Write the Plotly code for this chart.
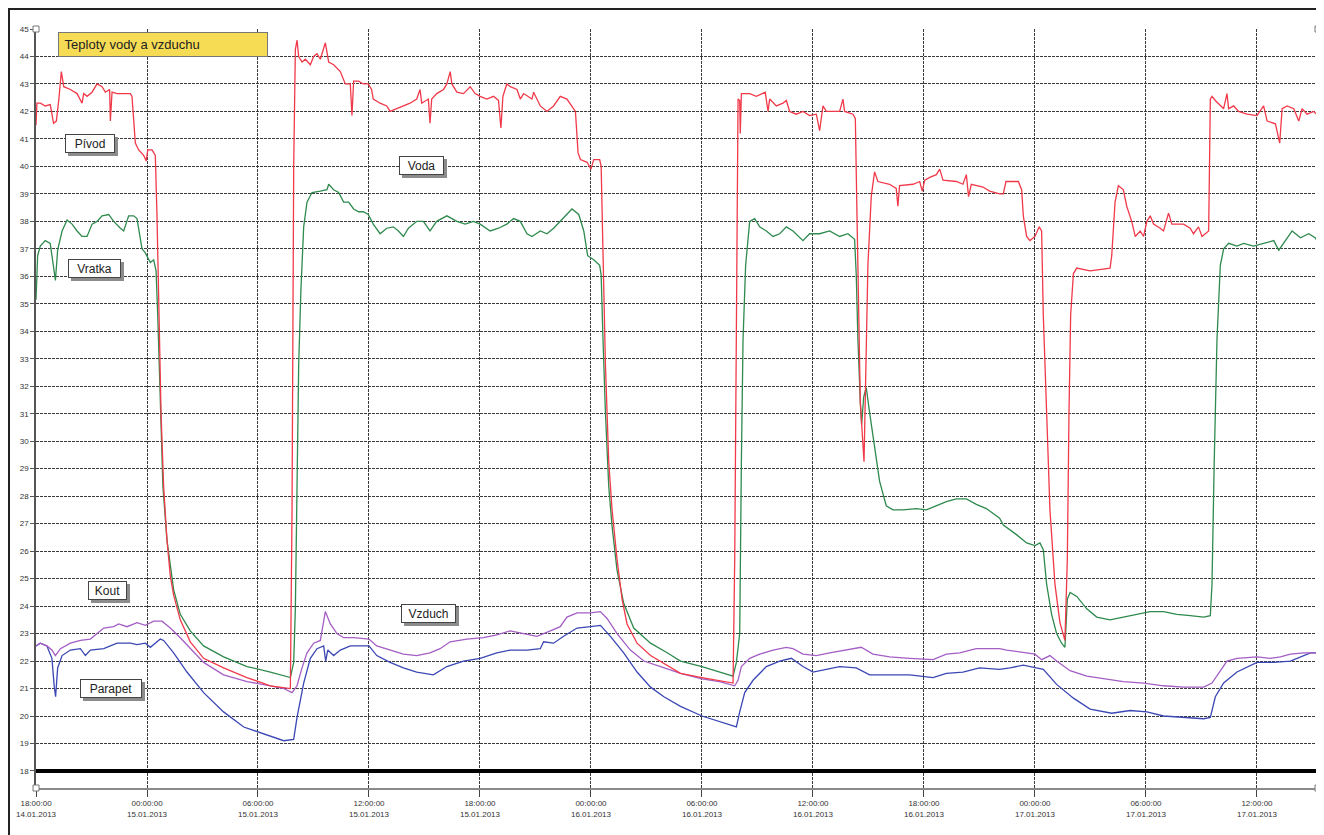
import plotly.graph_objects as go
import pandas as pd

# ---------------- data (hours after 14.01.2013 18:00 ; temperature in degC) ----------------
START = pd.Timestamp("2013-01-14 18:00:00")

pivod_hours = [0, 0.05, 0.24, 0.5, 0.77, 0.95, 1.1, 1.23, 1.37, 1.5, 1.86, 2.22, 2.49, 2.58, 2.76,
               3.03, 3.3, 3.57, 3.75, 3.98, 4.02, 4.11, 4.38, 4.74, 5.1, 5.19, 5.37, 5.55, 5.82, 5.96,
               6.04, 6.27, 6.45, 6.54, 6.63, 6.76, 6.9, 7.08, 7.26, 7.44, 7.8, 8.34, 9.06, 10.14, 11.4,
               12.67, 13.75, 13.84, 13.93, 14.02, 14.11, 14.2, 14.38, 14.56, 14.83, 15.01, 15.19, 15.37,
               15.64, 15.82, 16.09, 16.45, 16.72, 16.99, 17.08, 17.17, 17.44,
               17.69, 17.96, 18.14, 18.23, 18.6, 18.96, 19.14, 19.5, 19.86, 20.22, 20.58, 20.76, 20.85,
               21.21, 21.3, 21.39, 21.66, 22.03, 22.21, 22.39, 22.48, 22.75, 23.11, 23.47, 23.74, 24.01,
               24.37, 24.73, 25.0, 25.13, 25.24, 25.45, 25.64, 26.0, 26.18, 26.36, 26.81, 26.9, 27.26,
               27.62, 27.98, 28.34, 28.7, 28.97, 29.16, 29.3, 29.43, 29.79, 30.0, 30.15, 30.47, 30.55,
               30.65, 30.78, 30.96, 31.14, 31.41, 31.68, 31.95, 32.49, 33.22, 34.12, 34.84,
               36.0, 37.68, 37.77, 37.86, 37.95, 38.04, 38.07, 38.13, 38.58, 38.94, 39.3, 39.42, 39.57,
               39.66, 40.02, 40.38, 40.56, 40.74, 41.1, 41.46, 41.82, 42.18, 42.36, 42.54, 42.72, 43.44,
               43.62, 43.71, 44.16, 44.29, 44.38, 44.47, 44.56, 44.76, 44.85, 44.97, 45.15, 45.33, 45.51,
               46.14, 46.5, 46.59, 46.68, 47.41, 47.77, 47.91, 48.04, 48.31, 48.67, 48.85, 49.03, 49.75,
               50.11, 50.29, 50.41, 50.56, 51.19, 51.55, 52.09,
               52.29, 52.43, 53.1, 53.28, 53.37, 53.55, 53.73, 54.0, 54.23, 54.36, 54.45, 54.63, 54.81,
               55.08, 55.35, 55.62, 55.75, 55.84, 55.93, 56.08, 56.26, 56.98, 58.06, 58.15, 58.33, 58.51,
               58.78, 58.96, 59.23, 59.42, 59.69, 59.87, 60.05, 60.23, 60.41, 60.77, 60.95, 61.22, 61.4,
               62.03, 62.39, 62.57, 62.84, 63.03, 63.39, 63.48, 63.57, 63.75, 64.02, 64.2, 64.38, 64.47,
               64.74, 65.01, 65.46, 66.0, 66.36, 66.55, 67.0, 67.23, 67.36, 67.63, 67.99, 68.26, 68.44,
               68.71, 69.07, 69.3]
pivod_temp = [41.5, 42.3, 42.3, 42.2, 42.25, 41.57, 41.65, 42.4, 43.45, 42.9, 42.8, 42.65, 42.3, 42.65, 42.55,
              42.7, 43.0, 42.9, 42.7, 42.8, 41.65, 42.7, 42.65, 42.65, 42.65, 42.55, 40.85, 40.6, 40.4, 40.2,
              40.6, 40.6, 40.4, 38.2, 34.6, 31.0, 28.35, 26.4, 25.1, 24.4, 23.5, 22.7, 22.1, 21.75, 21.4,
              21.1, 21.0, 27.5, 40.0, 44.25, 44.6, 44.0, 43.8, 43.9, 43.7, 44.0, 44.1, 43.9,
              44.5, 43.8, 43.7, 43.45, 43.0, 43.0, 41.85, 43.1, 43.1,
              43.0, 43.0, 42.8, 42.45, 42.3, 42.2, 42.0, 42.1, 42.2, 42.3, 42.45, 42.8, 42.3,
              42.45, 41.57, 42.45, 42.65, 42.8, 43.0, 43.45, 43.0, 42.7, 42.65, 42.9, 42.65, 42.55,
              42.45, 42.55, 42.4, 41.4, 42.55, 43.0, 42.9, 42.8, 42.45, 42.65, 42.45, 42.7, 42.2,
              42.0, 42.2, 42.55, 42.45, 42.2, 42.0, 40.5, 40.25, 40.15, 39.9, 40.25, 40.25, 40.0,
              36.4, 32.8, 29.25, 27.5, 25.7, 24.25, 23.35, 22.65, 22.2, 21.85, 21.55,
              21.4, 21.2, 25.7, 36.4, 42.45, 42.4, 41.2, 42.65, 42.65, 42.55, 42.65, 42.7, 42.0,
              42.45, 42.2, 42.3, 42.4, 42.0, 41.9, 42.0, 41.85, 41.9, 41.3, 42.2, 42.0, 42.0,
              42.45, 42.0, 41.9, 41.75, 38.2, 34.6, 31.4, 29.25, 32.8, 36.4, 38.9, 39.8, 39.45,
              39.35, 39.2, 38.55, 39.3, 39.35, 39.45, 39.1, 39.5, 39.6, 39.7, 39.9, 39.5, 39.45,
              39.35, 39.7, 38.9, 39.35, 39.25, 39.1, 39.0,
              39.0, 39.45, 39.45, 39.15, 38.2, 37.45, 37.3, 37.45, 37.8, 37.65, 34.6, 31.05, 27.5,
              24.8, 23.4, 22.75, 25.7, 31.05, 34.6, 36.1, 36.3, 36.2, 36.3, 36.75, 38.7, 39.3,
              39.15, 38.55, 38.0, 37.45, 37.65, 37.45, 38.0, 38.2, 37.9, 37.75, 37.65, 38.3, 37.9,
              37.9, 37.75, 37.55, 37.8, 37.45, 37.65, 42.45, 42.55, 42.4, 42.2, 42.1, 42.65, 42.1,
              42.2, 42.0, 41.9, 41.85, 42.2, 41.65, 41.55, 40.85, 42.1, 42.2, 42.1, 41.65, 42.1,
              41.9, 42.0, 41.85]

vratka_hours = [0, 0.09, 0.23, 0.5, 0.77, 0.95, 1.05, 1.17, 1.41, 1.68, 1.95, 2.22, 2.49, 2.76, 3.03,
                3.3, 3.57, 3.93, 4.2, 4.56, 4.74, 5.01, 5.28, 5.46, 5.73, 5.91, 6.18, 6.36, 6.49, 6.58,
                6.72, 6.86, 7.08, 7.44, 7.8, 8.34, 9.06, 10.14, 11.41, 12.67, 13.75, 13.93, 14.02, 14.11,
                14.2, 14.32, 14.47, 14.65, 14.92, 15.37, 15.73, 15.82, 16.09, 16.36, 16.63, 16.9, 17.17, 17.44,
                17.69, 17.96, 18.23, 18.6, 18.96, 19.32, 19.59, 19.86, 20.13, 20.58, 20.94, 21.3, 21.66,
                22.21, 22.75, 23.2, 23.65, 24.01, 24.55, 25.0, 25.45, 25.82, 26.18, 26.54, 26.81, 27.26,
                27.62, 27.98, 28.34, 28.7, 28.97, 29.34, 29.61, 29.82, 30.15, 30.47, 30.55, 30.65, 30.78,
                30.96, 31.14, 31.41, 31.77, 32.31, 33.22, 34.12, 34.84,
                36.0, 37.68, 37.86, 38.04, 38.13, 38.22, 38.36, 38.58, 38.85, 39.12, 39.48, 39.84, 40.2,
                40.56, 40.92, 41.46, 41.82, 42.36, 42.9, 43.44, 43.89, 44.25, 44.34, 44.43, 44.56, 44.63,
                44.74, 44.88, 45.06, 45.33, 45.6, 45.96, 46.32, 46.86, 47.59, 48.13, 48.67, 49.21, 49.75,
                50.29, 50.83, 51.37, 52.09,
                52.29, 53.0, 53.55, 54.0, 54.27, 54.45, 54.63, 54.9, 55.17, 55.44, 55.62, 55.75, 55.9,
                56.26, 56.8, 57.34, 58.06, 58.78, 59.51, 60.23, 60.95, 61.67, 62.39, 63.12, 63.48, 63.57,
                63.69, 63.84, 64.02, 64.2, 64.47, 64.92, 65.28, 65.82, 66.36, 66.91, 67.18, 67.45, 67.9,
                68.35, 68.8, 69.16, 69.3]
vratka_temp = [35.15, 36.75, 37.1, 37.3, 37.2, 36.4, 35.85, 36.95, 37.65, 38.05, 37.9, 37.65, 37.45, 37.45, 37.9,
               38.0, 38.2, 38.25, 38.0, 37.75, 37.65, 38.2, 38.2, 38.1, 37.0, 36.85, 36.5, 36.6, 36.2, 34.6,
               31.05, 28.35, 26.4, 24.6, 23.7, 23.1, 22.55, 22.15, 21.8, 21.6, 21.4, 21.95, 23.9, 29.25,
               32.8, 35.5, 37.8, 38.7, 39.05, 39.1, 39.15, 39.35, 39.15, 39.05, 38.7, 38.7, 38.45, 38.35,
               38.35, 38.25, 37.9, 37.55, 37.75, 37.8, 37.65, 37.45, 37.75, 38.0, 38.0, 37.65, 38.0,
               38.2, 38.0, 37.9, 38.0, 37.9, 37.65, 37.75, 37.9, 38.1, 38.0, 37.55, 37.45, 37.65,
               37.55, 37.75, 38.0, 38.25, 38.45, 38.25, 37.65, 36.75, 36.6, 36.4, 36.05, 33.7, 31.05,
               28.35, 26.9, 25.3, 24.1, 23.2, 22.65, 22.3, 22.0,
               21.8, 21.45, 21.95, 23.0, 29.25, 33.7, 36.4, 38.0, 38.1, 37.8, 37.65, 37.45, 37.55,
               37.8, 37.65, 37.3, 37.55, 37.55, 37.65, 37.45, 37.55, 37.35, 36.05, 33.7, 31.4, 30.6,
               31.6, 31.95, 31.05, 29.8, 28.55, 27.65, 27.5, 27.5, 27.55, 27.5, 27.65, 27.8, 27.9,
               27.9, 27.7, 27.55, 27.2,
               26.95, 26.6, 26.3, 26.2, 26.3, 26.05, 24.8, 23.7, 23.0, 22.65, 22.5, 24.25, 24.5,
               24.35, 23.9, 23.6, 23.5, 23.6, 23.7, 23.8, 23.8, 23.7, 23.65, 23.6, 23.65, 24.8,
               29.25, 33.7, 36.4, 37.0, 37.2, 37.1, 37.2, 37.1, 37.2, 37.3, 36.95, 37.2, 37.65,
               37.4, 37.55, 37.4, 37.2]

kout_hours = [0, 0.23, 0.59, 0.86, 1.05, 1.32, 1.86, 2.4, 2.94, 3.3, 3.66, 4.2, 4.47, 4.92, 5.46,
              5.91, 6.36, 6.81, 7.26, 7.8, 8.34, 9.06, 10.14, 11.41, 12.67, 13.39, 13.84, 14.11, 14.38,
              14.65, 15.01, 15.37, 15.64, 15.91, 16.27, 16.63, 17.17,
              18.0, 18.42, 19.14, 19.86, 20.58, 21.3, 21.84, 22.39, 23.29, 24.19, 24.91, 25.64, 26.36,
              27.08, 27.8, 28.34, 28.7, 29.25, 29.97, 30.51, 30.87, 31.41, 32.13, 32.86, 33.76, 34.84,
              36.0, 36.95, 37.77, 37.95, 38.13, 38.58, 39.12, 39.84, 40.56, 40.92, 41.46, 42.18, 42.9,
              43.8, 44.61, 45.24, 46.14, 47.23, 48.13, 48.49, 49.21, 49.93, 50.83, 52.09,
              52.47, 53.37, 54.0, 54.36, 54.81, 55.17, 55.9, 56.8, 57.88, 58.78, 59.87, 60.95, 62.03,
              63.12, 63.57, 64.02, 64.38, 64.92, 65.64, 66.0, 66.72, 67.27, 67.81, 68.53, 69.3]
kout_temp = [22.55, 22.65, 22.55, 22.4, 22.2, 22.45, 22.65, 22.75, 22.8, 23.0, 23.2, 23.25, 23.35, 23.25, 23.4,
             23.3, 23.45, 23.45, 23.2, 22.85, 22.45, 21.95, 21.5, 21.25, 21.1, 21.0, 20.85, 21.1, 21.75,
             22.3, 22.65, 22.75, 23.8, 23.35, 23.0, 22.85, 22.85,
             22.8, 22.55, 22.4, 22.25, 22.2, 22.3, 22.45, 22.7, 22.8, 22.85, 22.95, 23.1, 23.0,
             22.9, 23.1, 23.25, 23.6, 23.75, 23.75, 23.8, 23.55, 23.0, 22.4, 22.0, 21.8, 21.55,
             21.35, 21.25, 21.1, 21.3, 21.8, 22.1, 22.25, 22.4, 22.5, 22.45, 22.25, 22.2, 22.3,
             22.4, 22.5, 22.25, 22.15, 22.1, 22.05, 22.05, 22.25, 22.3, 22.45, 22.45,
             22.4, 22.3, 22.25, 22.05, 22.2, 22.0, 21.65, 21.45, 21.35, 21.25, 21.2, 21.1, 21.05,
             21.05, 21.2, 21.65, 22.0, 22.1, 22.15, 22.15, 22.1, 22.15, 22.25, 22.3, 22.3]

parapet_hours = [0, 0.23, 0.59, 0.86, 0.99, 1.06, 1.17, 1.41, 1.86, 2.4, 2.67, 2.94, 3.66, 4.38, 5.1,
                 5.46, 5.91, 6.18, 6.72, 6.9, 7.44, 8.16, 9.06, 10.14, 11.23, 12.31, 13.39, 13.93, 14.11,
                 14.47, 14.83, 15.19, 15.55, 15.66, 15.77, 16.09, 16.45, 16.99,
                 18.0, 18.42, 19.14, 19.86, 20.58, 21.48, 22.21, 23.11, 24.01, 24.91, 25.64, 26.54, 27.26,
                 27.44, 27.98, 28.52, 29.25, 29.97, 30.51, 31.05, 31.77, 32.49, 33.22, 33.94, 34.84,
                 36.0, 36.95, 37.86, 38.04, 38.31, 38.76, 39.48, 40.2, 40.83, 41.46, 42.0, 42.72, 43.44,
                 44.34, 45.06, 46.14, 47.23, 48.49, 49.21, 50.11, 51.0, 52.09,
                 52.65, 53.37, 54.0, 54.45, 55.17, 56.08, 56.98, 58.15, 59.14, 60.05, 60.95, 62.03, 63.12,
                 63.48, 63.75, 64.2, 64.92, 66.0, 66.91, 67.81, 68.89, 69.3]
parapet_temp = [22.55, 22.65, 22.55, 22.1, 21.05, 20.7, 21.75, 22.2, 22.4, 22.45, 22.2, 22.4, 22.45, 22.65, 22.65,
                22.6, 22.65, 22.5, 22.8, 22.75, 22.3, 21.6, 20.85, 20.15, 19.6, 19.35, 19.1, 19.15, 19.95,
                21.2, 22.1, 22.45, 22.55, 22.0, 22.4, 22.2, 22.4, 22.55,
                22.55, 22.2, 21.95, 21.75, 21.6, 21.5, 21.8, 22.0, 22.1, 22.3, 22.4, 22.4, 22.45,
                22.7, 22.65, 22.9, 23.2, 23.25, 23.3, 22.9, 22.3, 21.6, 21.05, 20.7, 20.35,
                20.0, 19.8, 19.6, 20.15, 20.85, 21.3, 21.8, 22.0, 22.1, 21.8, 21.6, 21.7, 21.8,
                21.75, 21.5, 21.5, 21.5, 21.4, 21.55, 21.6, 21.75, 21.7,
                21.75, 21.85, 21.75, 21.7, 21.15, 20.65, 20.25, 20.1, 20.2, 20.15, 20.0, 19.95, 19.9,
                19.95, 20.7, 21.2, 21.6, 21.95, 21.95, 22.0, 22.3, 22.3]

tick_hours = [0, 6, 12, 18, 24, 30, 36, 42, 48, 54, 60, 66]
tick_labels = ["18:00:00<br>14.01.2013", "00:00:00<br>15.01.2013", "06:00:00<br>15.01.2013",
               "12:00:00<br>15.01.2013", "18:00:00<br>15.01.2013", "00:00:00<br>16.01.2013",
               "06:00:00<br>16.01.2013", "12:00:00<br>16.01.2013", "18:00:00<br>16.01.2013",
               "00:00:00<br>17.01.2013", "06:00:00<br>17.01.2013", "12:00:00<br>17.01.2013"]
end_hours = 69.3

for a, b in [(pivod_hours, pivod_temp), (vratka_hours, vratka_temp),
             (kout_hours, kout_temp), (parapet_hours, parapet_temp)]:
    assert len(a) == len(b), (len(a), len(b))


def to_time(hours):
    return [START + pd.Timedelta(hours=h) for h in hours]


# ---------------- figure (page has an 8px body margin) ----------------
OFF = 8
W, H = 1316, 827
L, R, T, B = 28, 6, 21, 47
PW, PH = W - L - R, H - T - B


def px(xp):  # page pixel -> paper x
    return (xp - OFF - L) / PW


def py(yp):  # page pixel -> paper y
    return (H - B - (yp - OFF)) / PH


fig = go.Figure()
series = [
    ("Parapet", parapet_hours, parapet_temp, "#3b47b3"),
    ("Kout", kout_hours, kout_temp, "#a45ec4"),
    ("Vratka", vratka_hours, vratka_temp, "#2f8a4e"),
    ("Přívod", pivod_hours, pivod_temp, "#f03a4a"),
]
for name, hrs, vals, col in series:
    fig.add_trace(go.Scatter(x=to_time(hrs), y=vals, mode="lines", name=name,
                             line=dict(color=col, width=1.3), hoverinfo="skip"))

grid = dict(showgrid=True, gridcolor="#3a3a3a", gridwidth=1, griddash="3px,1px")
tickfont = dict(family="Arial, Liberation Sans, sans-serif", size=8, color="#333")

fig.update_layout(
    width=W, height=H,
    margin=dict(l=L, r=R, t=T, b=B),
    paper_bgcolor="white", plot_bgcolor="white",
    showlegend=False,
    xaxis=dict(type="date",
               range=[START, START + pd.Timedelta(hours=end_hours)],
               tickmode="array", tickvals=to_time(tick_hours), ticktext=tick_labels,
               tickfont=tickfont, ticks="outside", ticklen=7, tickcolor="#444",
               showline=True, linecolor="#8a8a8a", linewidth=1.5, zeroline=False, **grid),
    yaxis=dict(range=[17.38, 45], tickmode="linear", tick0=18, dtick=1,
               tickfont=tickfont, ticks="outside", ticklen=4, tickcolor="#555",
               showline=True, linecolor="#555", linewidth=1.5, zeroline=False, **grid),
)

shapes = [
    # thick reference line at 18 degC
    dict(type="line", xref="paper", yref="y", x0=0, x1=1, y0=18, y1=18,
         line=dict(color="black", width=4)),
    # outer frame (left and top edges visible)
    dict(type="rect", xref="paper", yref="paper", x0=px(9), x1=px(1400), y0=py(900), y1=py(9),
         line=dict(color="#222", width=2), layer="below"),
]
for cx, cy in [(0, 1), (0, 0), (1, 0), (1, 1)]:
    shapes.append(dict(type="rect", xref="paper", yref="paper",
                       xsizemode="pixel", ysizemode="pixel", xanchor=cx, yanchor=cy,
                       x0=-3, x1=3, y0=-3, y1=3,
                       line=dict(color="#777", width=1), fillcolor="white"))
fig.update_layout(shapes=shapes)

ann = []
# title box
ann.append(dict(xref="paper", yref="paper", x=px(58), y=py(32), xanchor="left", yanchor="top",
                text="&nbsp;Teploty vody a vzduchu", showarrow=False, align="left",
                width=204, height=19, borderpad=2, borderwidth=1,
                bordercolor="#777", bgcolor="#f6dc55",
                font=dict(family="Arial, Liberation Sans, sans-serif", size=13, color="#222")))

labels = [("Pívod", 65, 134, 50), ("Voda", 399, 156, 45), ("Vratka", 68, 259, 53),
          ("Kout", 88, 581, 39), ("Vzduch", 401, 604, 55), ("Parapet", 80, 679, 62)]
for txt, lx, ty, wd in labels:
    common = dict(xref="paper", yref="paper", x=px(lx), y=py(ty), xanchor="left", yanchor="top",
                  showarrow=False, align="center", width=wd - 4, height=15,
                  borderpad=1, borderwidth=1,
                  font=dict(family="Arial, Liberation Sans, sans-serif", size=12, color="#222"))
    # drop shadow (empty box)
    ann.append(dict(**common, text="&nbsp;", xshift=3, yshift=-3,
                    bgcolor="#8c8c8c", bordercolor="#8c8c8c"))
    ann.append(dict(**common, text=txt, bgcolor="white", bordercolor="#444"))
fig.update_layout(annotations=ann)

fig.write_html("out.html")
